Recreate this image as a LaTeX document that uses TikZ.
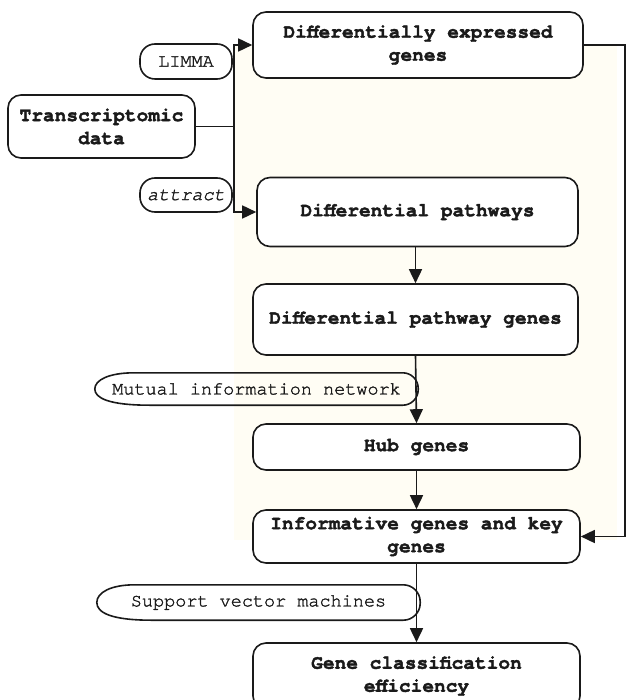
\documentclass[tikz,border=0pt]{standalone}
\usepackage{fontspec}
\usepackage{xcolor}
\usepackage{tikz}
\usetikzlibrary{arrows.meta,positioning,calc}
\newfontfamily\flowfont[FakeBold=1.5,BoldFeatures={FakeBold=2}]{TeX Gyre Cursor}
\definecolor{creambg}{HTML}{FFFDF4}
\definecolor{inkline}{HTML}{1A1A1A}

\begin{document}
\begin{tikzpicture}[
x=1pt,
y=-1pt,
every node/.style={font=\flowfont\fontsize{18.5}{23}\selectfont,text=inkline},
gbox/.style={rectangle,rounded corners=13pt,draw=inkline,line width=1.6pt,fill=white,align=center,inner sep=0pt,font=\flowfont\bfseries\fontsize{19.5}{23}\selectfont},
gtag/.style={rectangle,rounded corners=15pt,draw=inkline,line width=1.6pt,fill=white,inner sep=0pt},
gmethod/.style={inner sep=0pt},
gline/.style={draw=inkline,line width=1.6pt},
flow/.style={gline,-{Triangle[length=14pt,width=13pt]}}
]
\useasboundingbox (0,0) rectangle (626,700);

% bus and shaded area
\coordinate (bustop) at (234,45);
\coordinate (busbot) at (234,212);
\fill[creambg] (bustop) rectangle (617,540);

% boxes
\node[gbox,minimum width=330pt,minimum height=66pt] (deg) at (418,45) {Differentially expressed\\genes};
\node[gbox,minimum width=187pt,minimum height=63pt] (td) at (101.5,126.5) {Transcriptomic\\data};
\node[gtag,minimum width=92pt,minimum height=35pt] (limma) at (186,61.5) {LIMMA};
\node[gtag,minimum width=92pt,minimum height=34pt,font=\flowfont\itshape\fontsize{18.5}{23}\selectfont] (attract) at (186,195) {attract};
\node[gbox,minimum width=321pt,minimum height=69pt] (dp) at (417.5,212) {Differential pathways};
\node[gbox,minimum width=325pt,minimum height=71pt] (dpg) at (415.5,319.5) {Differential pathway genes};
\node[gmethod,minimum width=323pt,minimum height=32pt] (mi) at (256.5,389) {Mutual information network};
\node[gbox,minimum width=327pt,minimum height=46pt] (hub) at (416.5,447) {Hub genes};
\node[gbox,minimum width=327pt,minimum height=53pt] (info) at (416.5,536.5) {Informative genes and key\\genes};
\node[gmethod,minimum width=323pt,minimum height=35pt] (svm) at (258.5,602.5) {Support vector machines};
\node[gbox,minimum width=327pt,minimum height=66pt] (gce) at (416.5,676) {Gene classification\\efficiency};

% method outlines
\draw[gline] ([xshift=55pt]mi.south west) [rounded corners=15.5pt] -- (mi.south east) -- (mi.north east) -- ([xshift=55pt]mi.north west) [sharp corners] .. controls ([xshift=14pt]mi.north west) and ([yshift=9pt]mi.west) .. (mi.west) .. controls ([yshift=-9pt]mi.west) and ([xshift=14pt]mi.south west) .. cycle;
\draw[gline] ([xshift=55pt]svm.south west) [rounded corners=17pt] -- (svm.south east) -- (svm.north east) -- ([xshift=55pt]svm.north west) [sharp corners] .. controls ([xshift=14pt]svm.north west) and ([yshift=10pt]svm.west) .. (svm.west) .. controls ([yshift=-10pt]svm.west) and ([xshift=14pt]svm.south west) .. cycle;

% connectors
\draw[gline] (td.east) -- (td.east -| bustop);
\draw[flow] (busbot) -- (bustop) -- (deg.west);
\draw[flow] (bustop) -- (busbot) -- (dp.west);
\draw[flow] (dpg.north |- dp.south) -- (dpg.north);
\draw[flow] (dpg.south) -- (hub.north);
\draw[flow] (hub.south) -- (info.north);
\draw[flow] (info.south) -- (gce.north);
\coordinate (fbtop) at (625,45);
\coordinate (fbbot) at (625,536.5);
\draw[flow] (deg.east) -- (fbtop) -- (fbbot) -- (info.east);
\end{tikzpicture}
\end{document}
